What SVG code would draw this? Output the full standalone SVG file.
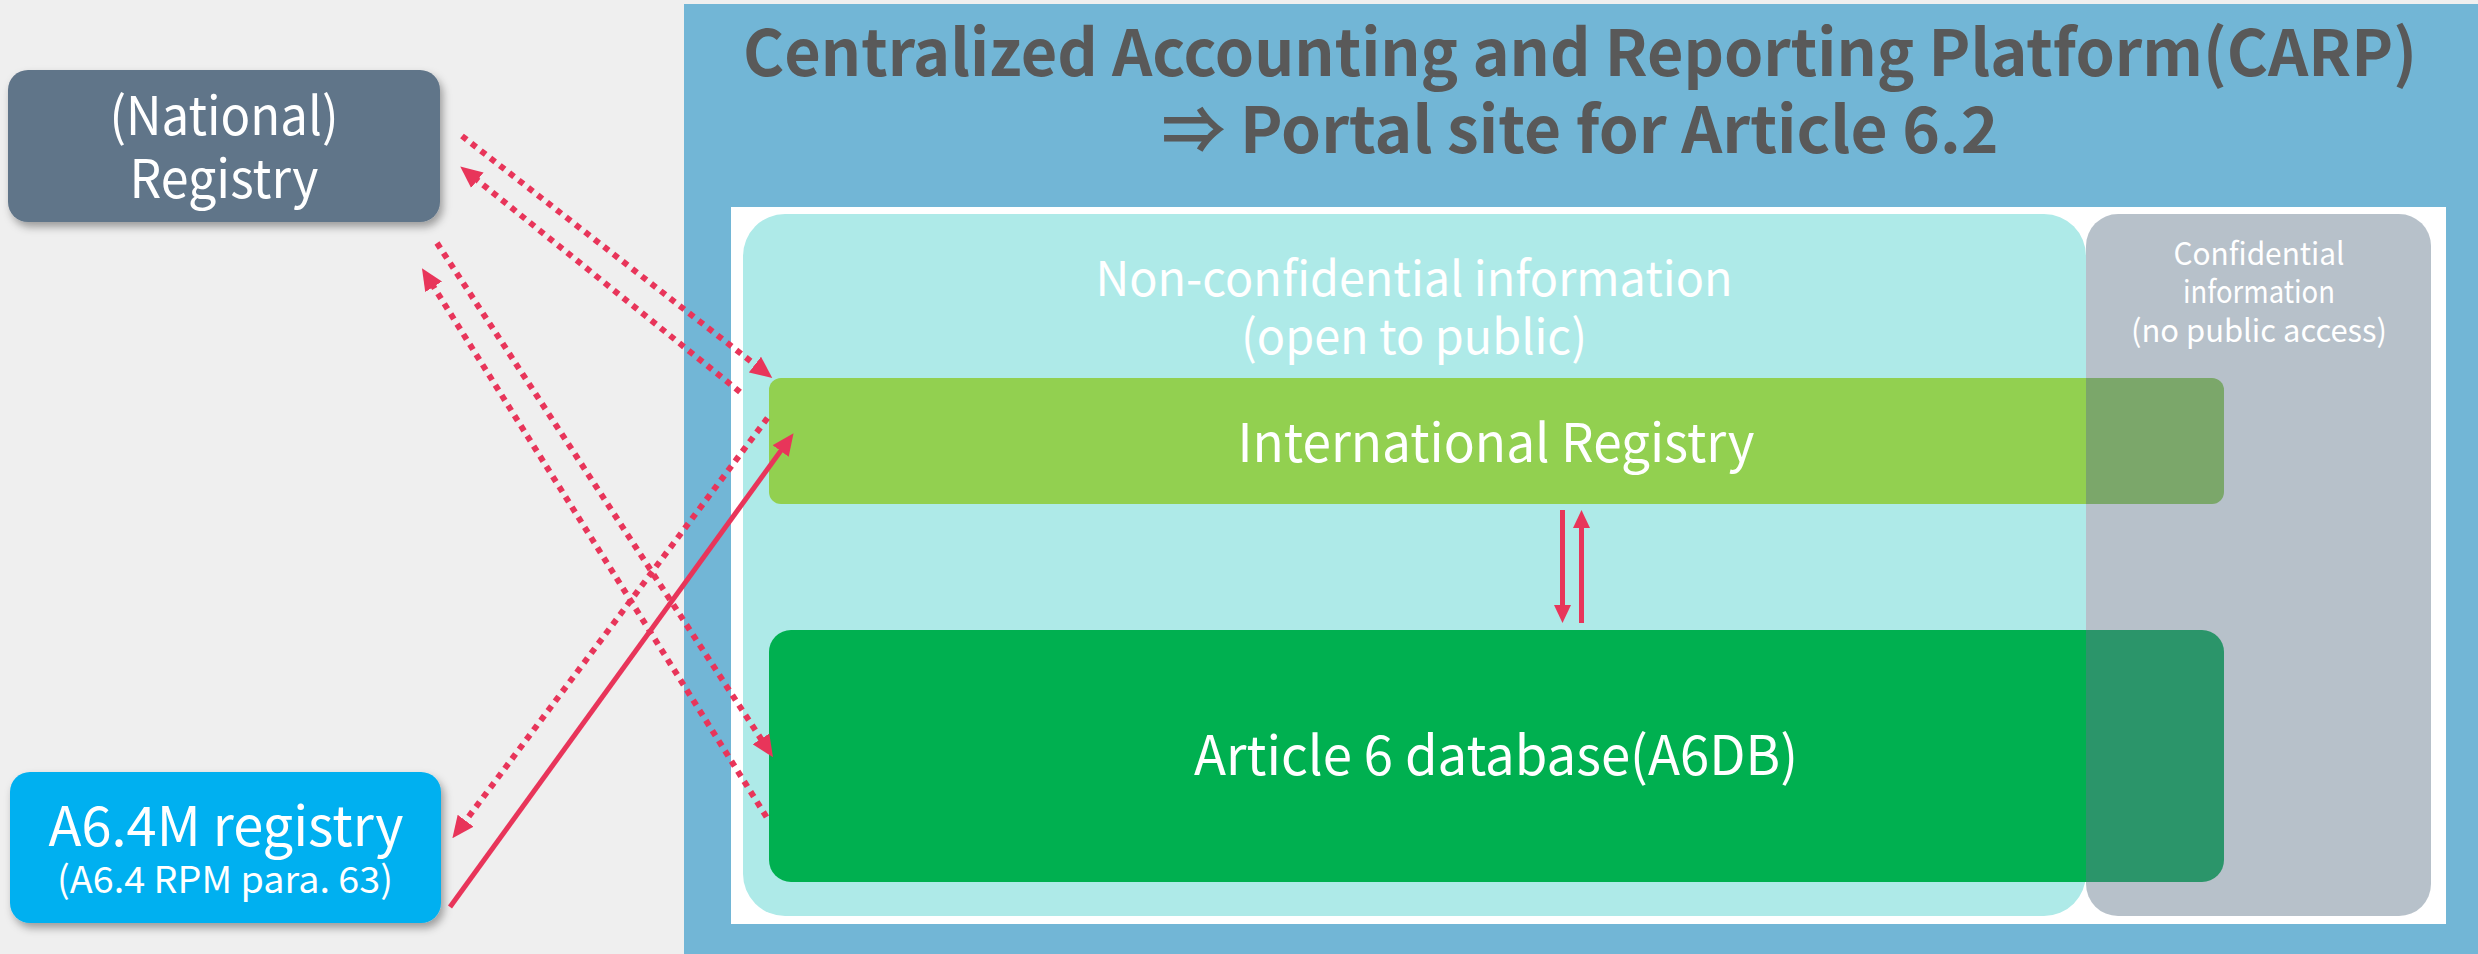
<svg xmlns="http://www.w3.org/2000/svg" width="2478" height="954" viewBox="0 0 2478 954">
<style>
.t{font-family:"Noto Sans CJK KR","Noto Sans",sans-serif;fill:#ffffff;text-anchor:middle}
.title{font-family:"Noto Sans CJK KR","Noto Sans",sans-serif;fill:#595959;font-weight:bold;text-anchor:middle;font-size:64px}
.dot{fill:none;stroke:#e8355a;stroke-width:6;stroke-dasharray:6 6}
.sol{fill:none;stroke:#e8355a;stroke-width:5}
</style>
<defs>
<marker id="ah" markerUnits="userSpaceOnUse" markerWidth="22" markerHeight="20" refX="10" refY="9" orient="auto" viewBox="0 0 20 18">
<path d="M0,0 L20,9 L0,18 z" fill="#e8355a"/>
</marker>
<marker id="ah2" markerUnits="userSpaceOnUse" markerWidth="18" markerHeight="18" refX="7" refY="8.5" orient="auto" viewBox="0 0 18 17">
<path d="M0,0 L18,8.5 L0,17 z" fill="#e8355a"/>
</marker>
<filter id="sh" x="-10%" y="-10%" width="125%" height="130%">
<feDropShadow dx="3" dy="5" stdDeviation="4" flood-color="#000000" flood-opacity="0.35"/>
</filter>
</defs>
<rect x="0" y="0" width="2478" height="954" fill="#efefef"/>
<g id="carp">
<rect x="684" y="4" width="1794" height="950" fill="#72b6d6"/>
<text class="title" x="1580" y="76" textLength="1674" lengthAdjust="spacingAndGlyphs">Centralized Accounting and Reporting Platform(CARP)</text>
<text class="title" x="1580" y="153" textLength="837" lengthAdjust="spacingAndGlyphs">⇒ Portal site for Article 6.2</text>
<rect x="731" y="207" width="1715" height="717" fill="#ffffff"/>
</g>
<g id="nonconf">
<rect x="743" y="214" width="1343" height="702" rx="42" fill="#aeeae8"/>
<text class="t" x="1414" y="296" font-size="48" textLength="637" lengthAdjust="spacingAndGlyphs">Non-confidential information</text>
<text class="t" x="1414" y="354" font-size="48" textLength="346" lengthAdjust="spacingAndGlyphs">(open to public)</text>
</g>
<g id="ir">
<rect x="769" y="378" width="1455" height="126" rx="12" fill="#92d050"/>
<text class="t" x="1496" y="462" font-size="53" textLength="517" lengthAdjust="spacingAndGlyphs">International Registry</text>
</g>
<g id="a6db">
<rect x="769" y="630" width="1455" height="252" rx="22" fill="#00b050"/>
<text class="t" x="1496" y="775" font-size="54" textLength="604" lengthAdjust="spacingAndGlyphs">Article 6 database(A6DB)</text>
</g>
<g id="conf">
<rect x="2086" y="214" width="345" height="702" rx="32" fill="#607589" fill-opacity="0.45"/>
<text class="t" x="2259" y="265" font-size="31" textLength="171" lengthAdjust="spacingAndGlyphs">Confidential</text>
<text class="t" x="2259" y="303" font-size="31" textLength="152" lengthAdjust="spacingAndGlyphs">information</text>
<text class="t" x="2259" y="342" font-size="31" textLength="256" lengthAdjust="spacingAndGlyphs">(no public access)</text>
</g>
<g id="national">
<rect x="8" y="70" width="432" height="152" rx="20" fill="#607589" filter="url(#sh)"/>
<text class="t" x="224" y="135" font-size="53" textLength="229" lengthAdjust="spacingAndGlyphs">(National)</text>
<text class="t" x="224" y="198" font-size="53" textLength="189" lengthAdjust="spacingAndGlyphs">Registry</text>
</g>
<g id="a64m">
<rect x="10" y="772" width="431" height="151" rx="20" fill="#00b0f0" filter="url(#sh)"/>
<text class="t" x="226" y="846" font-size="55" textLength="355" lengthAdjust="spacingAndGlyphs">A6.4M registry</text>
<text class="t" x="225" y="893" font-size="37" textLength="336" lengthAdjust="spacingAndGlyphs">(A6.4 RPM para. 63)</text>
</g>
<g id="connectors">
<line class="dot" x1="462" y1="136" x2="763.6" y2="371.3" marker-end="url(#ah)"/>
<line class="dot" x1="740" y1="392" x2="468.8" y2="173.3" marker-end="url(#ah)"/>
<line class="dot" x1="437" y1="243" x2="767" y2="748.1" marker-end="url(#ah)"/>
<line class="dot" x1="766.5" y1="817" x2="427.8" y2="277.5" marker-end="url(#ah)"/>
<line class="dot" x1="767.5" y1="418" x2="459" y2="829.5" marker-end="url(#ah)"/>
<line class="sol" x1="450" y1="907" x2="787.1" y2="442.1" marker-end="url(#ah)"/>
<line class="sol" x1="1562.5" y1="510" x2="1562.5" y2="612" marker-end="url(#ah2)"/>
<line class="sol" x1="1581.5" y1="623" x2="1581.5" y2="521" marker-end="url(#ah2)"/>
</g>
</svg>
